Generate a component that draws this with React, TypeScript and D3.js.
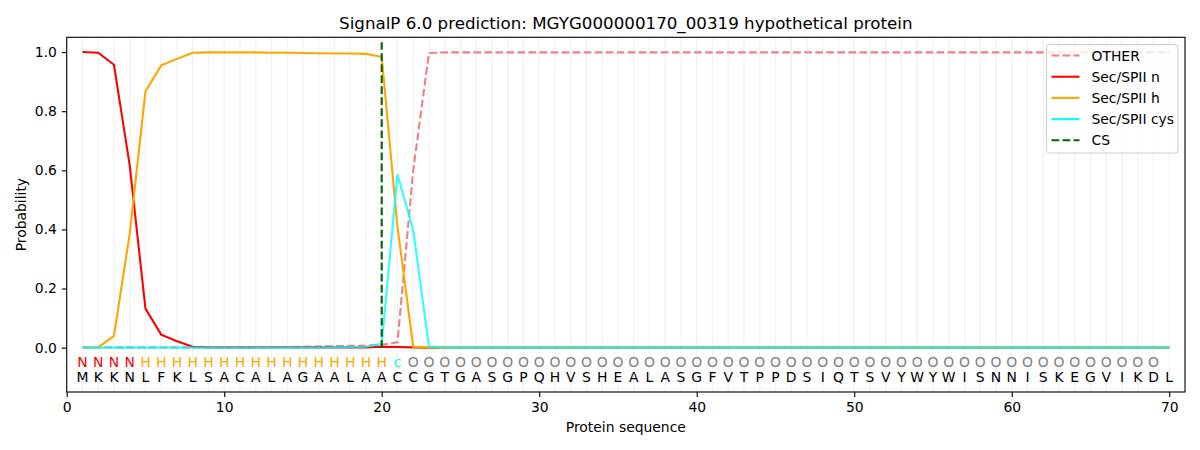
import { useEffect, useRef } from "react";
import * as d3 from "d3";

const sequence = "MKKNLFKLSACALAGAALAACCGTGASGPQHVSHEALASGFVTPPDSIQTSVYWYWISNNISKEGVIKDL".split("");
const regionLabels = "NNNNHHHHHHHHHHHHHHHHcOOOOOOOOOOOOOOOOOOOOOOOOOOOOOOOOOOOOOOOOOOOOOOOO".split("");

const other = [
  0.001, 0.001, 0.001, 0.001, 0.001, 0.001, 0.001, 0.001, 0.001, 0.001,
  0.001, 0.001, 0.002, 0.002, 0.003, 0.004, 0.005, 0.006, 0.006, 0.01,
  0.018, 0.6, 0.997, 0.999, 0.999, 0.999, 0.999, 0.999, 0.999, 0.999,
  0.999, 0.999, 0.999, 0.999, 0.999, 0.999, 0.999, 0.999, 0.999, 0.999,
  0.999, 0.999, 0.999, 0.999, 0.999, 0.999, 0.999, 0.999, 0.999, 0.999,
  0.999, 0.999, 0.999, 0.999, 0.999, 0.999, 0.999, 0.999, 0.999, 0.999,
  0.999, 0.999, 0.999, 0.999, 0.999, 0.999, 0.999, 0.999, 0.999, 0.999,
];
const secN = [
  1.0, 0.998, 0.957, 0.617, 0.132, 0.044, 0.022, 0.003, 0.001, 0.001,
  0.001, 0.001, 0.001, 0.001, 0.001, 0.001, 0.001, 0.001, 0.001, 0.003,
  0.002, 0.001, 0, 0, 0, 0, 0, 0, 0, 0,
  0, 0, 0, 0, 0, 0, 0, 0, 0, 0,
  0, 0, 0, 0, 0, 0, 0, 0, 0, 0,
  0, 0, 0, 0, 0, 0, 0, 0, 0, 0,
  0, 0, 0, 0, 0, 0, 0, 0, 0, 0,
];
const secH = [
  0.0, 0.001, 0.04, 0.385, 0.867, 0.955, 0.977, 0.998, 0.999, 0.999,
  0.999, 0.999, 0.998, 0.998, 0.997, 0.996, 0.995, 0.995, 0.994, 0.984,
  0.41, 0.003, 0.001, 0, 0, 0, 0, 0, 0, 0,
  0, 0, 0, 0, 0, 0, 0, 0, 0, 0,
  0, 0, 0, 0, 0, 0, 0, 0, 0, 0,
  0, 0, 0, 0, 0, 0, 0, 0, 0, 0,
  0, 0, 0, 0, 0, 0, 0, 0, 0, 0,
];
const secCys = [
  0, 0, 0, 0, 0, 0, 0, 0, 0, 0,
  0, 0, 0, 0, 0, 0, 0.001, 0.002, 0.003, 0.012,
  0.586, 0.397, 0.004, 0, 0, 0, 0, 0, 0, 0,
  0, 0, 0, 0, 0, 0, 0, 0, 0, 0,
  0, 0, 0, 0, 0, 0, 0, 0, 0, 0,
  0, 0, 0, 0, 0, 0, 0, 0, 0, 0,
  0, 0, 0, 0, 0, 0, 0, 0, 0, 0,
];
const cleavageSite = 20;
const xTicks = [0, 10, 20, 30, 40, 50, 60, 70];
const yTicks = [0, 0.2, 0.4, 0.6, 0.8, 1.0];

const series = [
  { name: "OTHER", values: other, color: "#f08080", dashed: true, opacity: 1 },
  { name: "Sec/SPII n", values: secN, color: "#ff0000", dashed: false, opacity: 1 },
  { name: "Sec/SPII h", values: secH, color: "#ffa500", dashed: false, opacity: 1 },
  { name: "Sec/SPII cys", values: secCys, color: "#00ffff", dashed: false, opacity: 0.82 },
];

const labelColor: Record<string, string> = {
  N: "#ff0000",
  H: "#ffa500",
  c: "#00ffff",
  O: "#808080",
};

export default function App() {
  const svgRef = useRef<SVGSVGElement>(null);

  useEffect(() => {
    if (!svgRef.current) return;
    const svg = d3.select(svgRef.current);
    svg.selectAll("*").remove();

    const margin = { top: 37.3, right: 15, bottom: 58, left: 66.7 };
    const W = 1200 - margin.left - margin.right;
    const H = 450 - margin.top - margin.bottom;
    const font = "DejaVu Sans, sans-serif";
    const lw = 2.08;
    const dash = "7.7,3.33";

    const x = d3.scaleLinear().domain([0, 71]).range([0, W]);
    const y = d3.scaleLinear().domain([-0.15, 1.05]).range([H, 0]);

    svg.append("rect").attr("width", 1200).attr("height", 450).attr("fill", "#fff");

    const g = svg
      .append("g")
      .attr("transform", `translate(${margin.left},${margin.top})`);

    // vertical grid per residue
    g.append("g")
      .selectAll("line")
      .data(sequence.map((_, i) => i + 1))
      .join("line")
      .attr("x1", (d) => x(d))
      .attr("x2", (d) => x(d))
      .attr("y1", 0)
      .attr("y2", H)
      .attr("stroke", "#000")
      .attr("stroke-opacity", 0.05)
      .attr("stroke-width", 1.4);

    const line = d3
      .line<number>()
      .x((_, i) => x(i + 1))
      .y((d) => y(d));

    series.forEach((s) => {
      g.append("path")
        .datum(s.values)
        .attr("fill", "none")
        .attr("stroke", s.color)
        .attr("stroke-opacity", s.opacity)
        .attr("stroke-width", lw)
        .attr("stroke-dasharray", s.dashed ? dash : null)
        .attr("d", line);
    });

    // cleavage site
    g.append("line")
      .attr("x1", x(cleavageSite))
      .attr("x2", x(cleavageSite))
      .attr("y1", y(0))
      .attr("y2", y(1.037))
      .attr("stroke", "#006400")
      .attr("stroke-width", lw)
      .attr("stroke-dasharray", dash);

    // region labels + sequence
    g.append("g")
      .selectAll("text")
      .data(regionLabels)
      .join("text")
      .attr("x", (_, i) => x(i + 1))
      .attr("y", y(-0.047))
      .attr("text-anchor", "middle")
      .attr("dominant-baseline", "central")
      .attr("font-family", font)
      .attr("font-size", 13.9)
      .attr("fill", (d) => labelColor[d])
      .text((d) => d);

    g.append("g")
      .selectAll("text")
      .data(sequence)
      .join("text")
      .attr("x", (_, i) => x(i + 1))
      .attr("y", y(-0.098))
      .attr("text-anchor", "middle")
      .attr("dominant-baseline", "central")
      .attr("font-family", font)
      .attr("font-size", 13.9)
      .attr("fill", "#000")
      .text((d) => d);

    // axes
    const xAxis = g
      .append("g")
      .attr("transform", `translate(0,${H})`)
      .call(d3.axisBottom(x).tickValues(xTicks).tickSize(4.9).tickPadding(4.9).tickFormat(d3.format("d")));
    const yAxis = g
      .append("g")
      .call(d3.axisLeft(y).tickValues(yTicks).tickSize(4.9).tickPadding(4.9).tickFormat(d3.format(".1f")));
    [xAxis, yAxis].forEach((a) => {
      a.select(".domain").remove();
      a.selectAll(".tick line").attr("stroke", "#000").attr("stroke-width", 1.1);
      a.selectAll(".tick text")
        .attr("fill", "#000")
        .attr("font-size", 13.9)
        .attr("font-family", font);
    });

    g.append("rect")
      .attr("width", W)
      .attr("height", H)
      .attr("fill", "none")
      .attr("stroke", "#000")
      .attr("stroke-width", 1.1);

    // titles
    svg.append("text")
      .attr("x", margin.left + W / 2)
      .attr("y", 29)
      .attr("text-anchor", "middle")
      .attr("font-family", font)
      .attr("font-size", 16.7)
      .text("SignalP 6.0 prediction: MGYG000000170_00319 hypothetical protein");
    svg.append("text")
      .attr("x", margin.left + W / 2)
      .attr("y", 432)
      .attr("text-anchor", "middle")
      .attr("font-family", font)
      .attr("font-size", 13.9)
      .text("Protein sequence");
    svg.append("text")
      .attr("transform", `translate(26,${margin.top + H / 2}) rotate(-90)`)
      .attr("text-anchor", "middle")
      .attr("font-family", font)
      .attr("font-size", 13.9)
      .text("Probability");

    // legend
    const entries = [
      ...series.map((s) => ({ name: s.name, color: s.color, dashed: s.dashed })),
      { name: "CS", color: "#006400", dashed: true },
    ];
    const lg = svg.append("g").attr("transform", "translate(1046.5,44.5)");
    lg.append("rect")
      .attr("width", 131.5)
      .attr("height", 108.5)
      .attr("rx", 3)
      .attr("fill", "#fff")
      .attr("fill-opacity", 0.8)
      .attr("stroke", "#cccccc")
      .attr("stroke-width", 1);
    entries.forEach((e, i) => {
      const yy = 11 + i * 21.2;
      lg.append("line")
        .attr("x1", 5)
        .attr("x2", 33)
        .attr("y1", yy)
        .attr("y2", yy)
        .attr("stroke", e.color)
        .attr("stroke-width", lw)
        .attr("stroke-dasharray", e.dashed ? dash : null);
      lg.append("text")
        .attr("x", 45)
        .attr("y", yy)
        .attr("dominant-baseline", "central")
        .attr("font-family", font)
        .attr("font-size", 13.9)
        .text(e.name);
    });
  }, []);

  return (
    <svg
      ref={svgRef}
      width={1200}
      height={450}
      viewBox="0 0 1200 450"
      style={{ position: "absolute", top: 0, left: 0 }}
    />
  );
}
